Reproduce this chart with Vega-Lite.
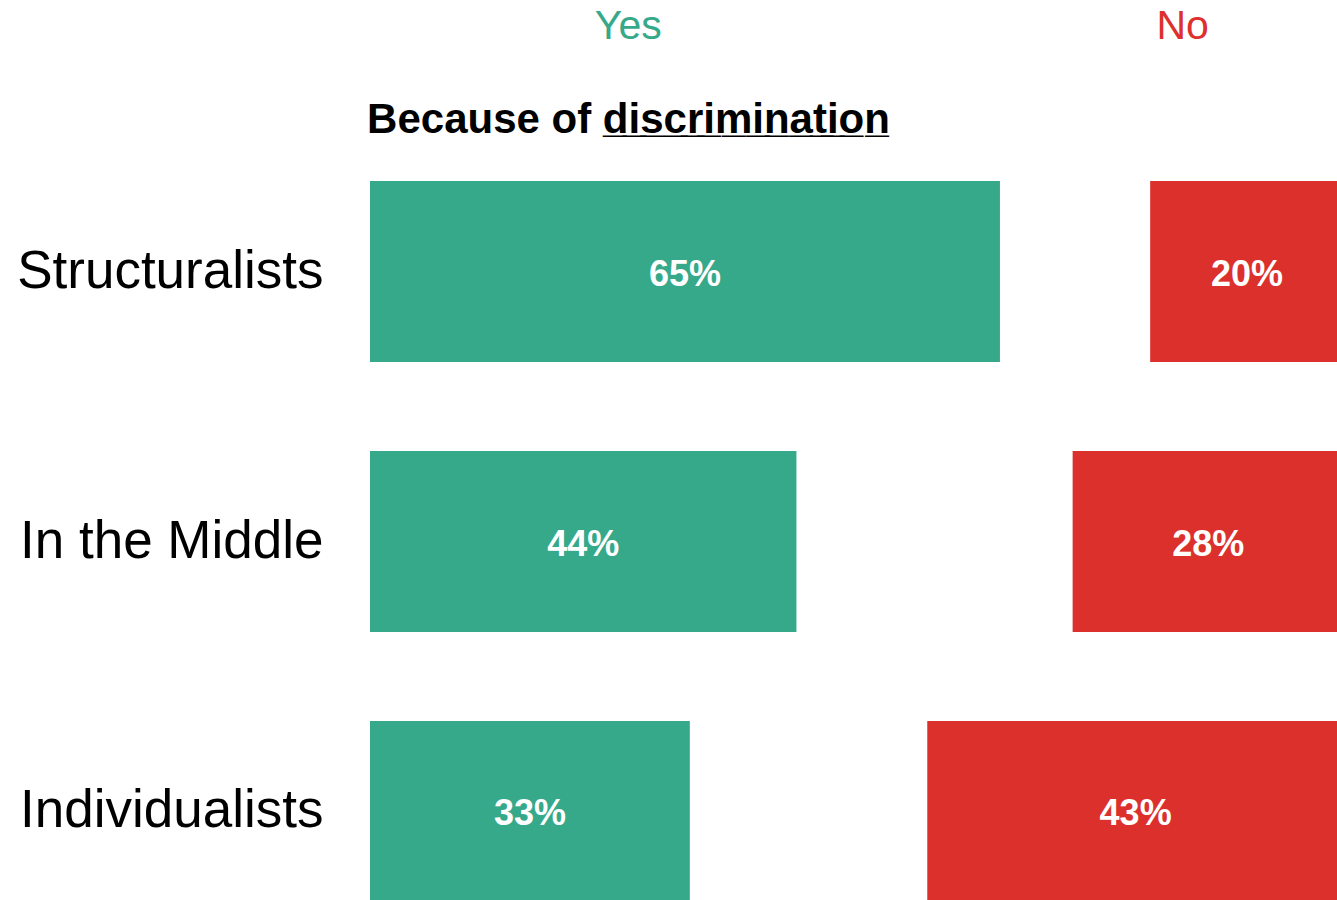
{
  "$schema": "https://vega.github.io/schema/vega-lite/v6.json",
  "autosize": "none",
  "width": 974,
  "height": 721,
  "padding": {"left": 370, "top": 181, "right": 0, "bottom": 0},
  "background": "white",
  "config": {"view": {"stroke": null}, "font": "Liberation Sans"},
  "data": {
    "values": [
      {"group": "Structuralists", "yes": 0.65, "no": 0.20},
      {"group": "In the Middle", "yes": 0.44, "no": 0.28},
      {"group": "Individualists", "yes": 0.33, "no": 0.43}
    ]
  },
  "encoding": {
    "y": {
      "field": "group",
      "type": "nominal",
      "sort": null,
      "scale": {"paddingInner": 0.3296, "paddingOuter": 0},
      "axis": {
        "title": null,
        "domain": false,
        "ticks": false,
        "tickSize": 0,
        "labelPadding": 47,
        "labelFontSize": 53,
        "labelFont": "Liberation Sans",
        "labelColor": "#000000",
        "labelLimit": 600
      }
    }
  },
  "layer": [
    {
      "mark": {"type": "bar", "color": "#35a98a"},
      "encoding": {
        "x": {
          "field": "yes",
          "type": "quantitative",
          "scale": {"domain": [0, 1.005], "nice": false, "zero": true},
          "axis": {
            "orient": "top",
            "values": [0.266, 0.838],
            "labelExpr": "datum.value < 0.5 ? 'Yes' : 'No'",
            "labelColor": {"condition": {"test": "datum.value < 0.5", "value": "#35a98a"}, "value": "#dc312d"},
            "labelFont": "Liberation Sans",
            "labelFontSize": 41,
            "labelPadding": 143,
            "labelBaseline": "alphabetic",
            "labelAlign": "center",
            "labelFlush": false,
            "labelOverlap": false,
            "labelBound": false,
            "domain": false,
            "ticks": false,
            "tickSize": 0,
            "grid": false,
            "title": "Because of d\u0332i\u0332s\u0332c\u0332r\u0332i\u0332m\u0332i\u0332n\u0332a\u0332t\u0332i\u0332o\u0332n\u0332",
            "titleFont": "Liberation Sans",
            "titleFontSize": 42,
            "titleFontWeight": "bold",
            "titleColor": "#000000",
            "titleX": 258,
            "titleY": -49,
            "titleAlign": "center",
            "titleBaseline": "alphabetic",
            "titleAngle": 0
          }
        }
      }
    },
    {
      "mark": {"type": "text", "color": "#ffffff", "fontSize": 36, "fontWeight": "bold", "font": "Liberation Sans", "align": "center", "baseline": "middle", "dy": 3},
      "encoding": {
        "x": {"field": "yes", "type": "quantitative", "scale": {"domain": [0, 2.01], "nice": false}, "axis": null},
        "text": {"field": "yes", "type": "quantitative", "format": ".0%"}
      }
    },
    {
      "mark": {"type": "bar", "color": "#dc302c"},
      "encoding": {
        "x": {
          "field": "no",
          "type": "quantitative",
          "scale": {"domain": [0, 1.005], "nice": false, "reverse": true},
          "axis": null
        }
      }
    },
    {
      "mark": {"type": "text", "color": "#ffffff", "fontSize": 36, "fontWeight": "bold", "font": "Liberation Sans", "align": "center", "baseline": "middle", "dy": 3},
      "encoding": {
        "x": {"field": "no", "type": "quantitative", "scale": {"domain": [0, 2.01], "nice": false, "reverse": true}, "axis": null},
        "text": {"field": "no", "type": "quantitative", "format": ".0%"}
      }
    }
  ],
  "resolve": {"scale": {"x": "independent"}}
}
